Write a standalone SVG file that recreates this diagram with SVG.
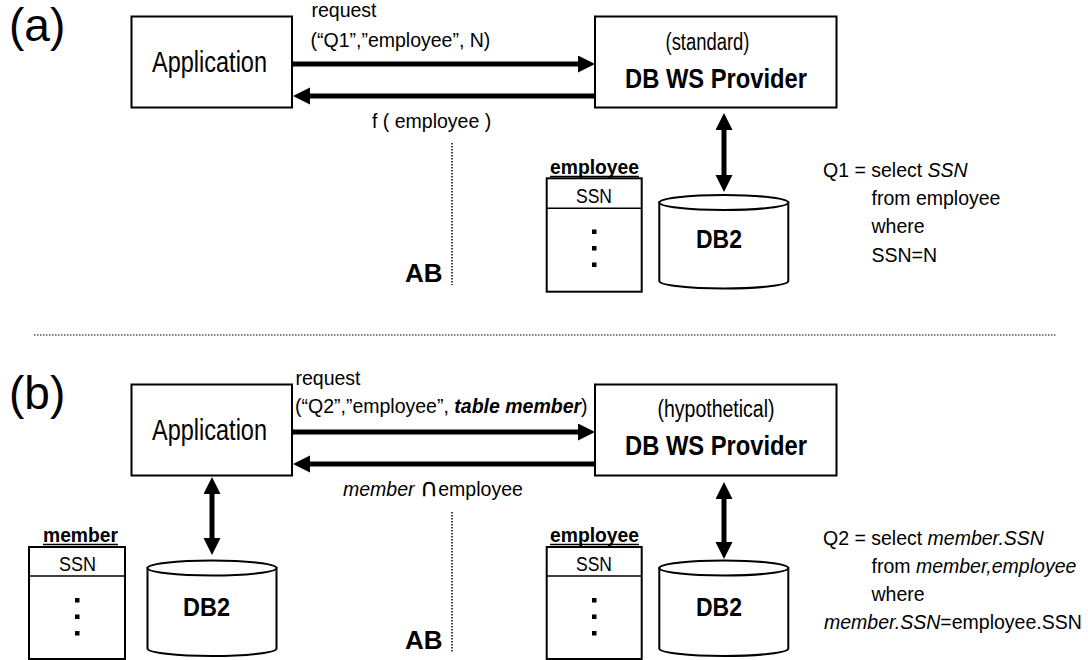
<svg xmlns="http://www.w3.org/2000/svg" width="1088" height="660" viewBox="0 0 1088 660">
  <style>
    .t { font-family: "Liberation Sans", Arial, Helvetica, sans-serif; fill: #000; }
    .lbl { font-size: 19.5px; }
    .it { font-style: italic; }
    .b { font-weight: bold; }
    .box { fill: #fff; stroke: #000; stroke-width: 2; }
    .cyl { fill: #fff; stroke: #000; stroke-width: 2; }
    .rule { stroke: #000; stroke-width: 1.5; }
    .arrow { stroke: #000; stroke-width: 5; fill: none; }
    .vdots { stroke: #000; stroke-width: 1.5; stroke-dasharray: 1.5 1.5; fill: none; }
    .hdots { stroke: #000; stroke-width: 1; stroke-dasharray: 1.5 1.5; fill: none; }
    .ul { stroke: #000; stroke-width: 1.5; }
    .sym { font-family: "DejaVu Sans", sans-serif; font-size: 25px; }
  </style>
  <defs>
    <marker id="head" markerUnits="userSpaceOnUse" markerWidth="18" markerHeight="18" refX="2" refY="8.5" orient="auto-start-reverse">
      <path d="M0,0 L17,8.5 L0,17 z" fill="#000"/>
    </marker>
  </defs>

  <rect width="1088" height="660" fill="#fff"/>

  <!-- panel captions -->
  <text class="t" x="9" y="40.5" font-size="46">(a)</text>
  <text class="t" x="9" y="409" font-size="46">(b)</text>

  <!-- separator between the two panels -->
  <line class="hdots" x1="34" y1="335" x2="1057" y2="335"/>

  <!-- ============ panel (a) ============ -->
  <g id="a-application">
    <rect class="box" x="131.5" y="16.5" width="160.5" height="91"/>
    <text class="t" x="152" y="72" font-size="30" textLength="115" lengthAdjust="spacingAndGlyphs">Application</text>
  </g>

  <g id="a-provider">
    <rect class="box" x="595" y="16.5" width="241.5" height="91"/>
    <text class="t" x="665.5" y="50" font-size="23" textLength="84" lengthAdjust="spacingAndGlyphs">(standard)</text>
    <text class="t b" x="625" y="88" font-size="28" textLength="182" lengthAdjust="spacingAndGlyphs">DB WS Provider</text>
  </g>

  <g id="a-employee-table">
    <text class="t b" x="550" y="173.5" font-size="20" textLength="89" lengthAdjust="spacingAndGlyphs">employee</text>
    <line class="ul" x1="550" y1="176.5" x2="639" y2="176.5"/>
    <rect class="box" x="546.7" y="178.3" width="95" height="113.4"/>
    <line class="rule" x1="546.7" y1="208.3" x2="641.7" y2="208.3"/>
    <text class="t" x="576" y="202.7" font-size="20" textLength="36" lengthAdjust="spacingAndGlyphs">SSN</text>
    <rect x="592" y="229.5" width="4.5" height="4.5"/>
    <rect x="592" y="246" width="4.5" height="4.5"/>
    <rect x="592" y="262.5" width="4.5" height="4.5"/>
  </g>

  <g id="a-db2">
    <path class="cyl" d="M659.3,202.5 L659.3,281 A64.5,7.5 0 0 0 788.3,281 L788.3,202.5 z"/>
    <ellipse class="cyl" cx="723.8" cy="202.5" rx="64.5" ry="7.5"/>
    <text class="t b" x="696" y="248" font-size="26" textLength="46" lengthAdjust="spacingAndGlyphs">DB2</text>
  </g>

  <g id="a-boundary">
    <line class="vdots" x1="452" y1="143" x2="452" y2="285"/>
    <text class="t b" x="405" y="281.5" font-size="26">AB</text>
  </g>

  <g id="a-query">
    <text class="t lbl" x="823" y="177">Q1 = select <tspan class="it">SSN</tspan></text>
    <text class="t lbl" x="871.5" y="205">from employee</text>
    <text class="t lbl" x="871.5" y="233">where</text>
    <text class="t lbl" x="871.5" y="262">SSN=N</text>
  </g>

  <g id="a-connectors">
    <line class="arrow" x1="292" y1="64" x2="580" y2="64" marker-end="url(#head)"/>
    <line class="arrow" x1="595" y1="96" x2="308" y2="96" marker-end="url(#head)"/>
    <line class="arrow" x1="724" y1="128" x2="724" y2="177" marker-start="url(#head)" marker-end="url(#head)"/>
    <text class="t lbl" x="311.5" y="17">request</text>
    <text class="t lbl" x="310.5" y="46.5">(“Q1”,”employee”, N)</text>
    <text class="t lbl" x="372" y="128.3">f ( employee )</text>
  </g>

  <!-- ============ panel (b) ============ -->
  <g id="b-application">
    <rect class="box" x="131.5" y="384.5" width="160.5" height="91"/>
    <text class="t" x="152" y="440" font-size="30" textLength="115" lengthAdjust="spacingAndGlyphs">Application</text>
  </g>

  <g id="b-provider">
    <rect class="box" x="595" y="384.5" width="241.5" height="91"/>
    <text class="t" x="657.5" y="417" font-size="23" textLength="117" lengthAdjust="spacingAndGlyphs">(hypothetical)</text>
    <text class="t b" x="625" y="455" font-size="28" textLength="182" lengthAdjust="spacingAndGlyphs">DB WS Provider</text>
  </g>

  <g id="b-member-table">
    <text class="t b" x="43" y="541.5" font-size="20" textLength="75" lengthAdjust="spacingAndGlyphs">member</text>
    <line class="ul" x1="43" y1="544.5" x2="118" y2="544.5"/>
    <rect class="box" x="29" y="547" width="96" height="112"/>
    <line class="rule" x1="29" y1="576" x2="125" y2="576"/>
    <text class="t" x="59" y="570.5" font-size="20" textLength="37" lengthAdjust="spacingAndGlyphs">SSN</text>
    <rect x="75" y="598" width="4.5" height="4.5"/>
    <rect x="75" y="614.5" width="4.5" height="4.5"/>
    <rect x="75" y="631" width="4.5" height="4.5"/>
  </g>

  <g id="b-member-db2">
    <path class="cyl" d="M147.5,568 L147.5,648.5 A64.5,7.5 0 0 0 276.5,648.5 L276.5,568 z"/>
    <ellipse class="cyl" cx="212" cy="568" rx="64.5" ry="7.5"/>
    <text class="t b" x="183" y="615.5" font-size="26" textLength="47" lengthAdjust="spacingAndGlyphs">DB2</text>
  </g>

  <g id="b-employee-table">
    <text class="t b" x="550" y="541.5" font-size="20" textLength="89" lengthAdjust="spacingAndGlyphs">employee</text>
    <line class="ul" x1="550" y1="544.5" x2="639" y2="544.5"/>
    <rect class="box" x="546.7" y="547" width="95" height="112"/>
    <line class="rule" x1="546.7" y1="576" x2="641.7" y2="576"/>
    <text class="t" x="576" y="570.5" font-size="20" textLength="36" lengthAdjust="spacingAndGlyphs">SSN</text>
    <rect x="592" y="598" width="4.5" height="4.5"/>
    <rect x="592" y="614.5" width="4.5" height="4.5"/>
    <rect x="592" y="631" width="4.5" height="4.5"/>
  </g>

  <g id="b-employee-db2">
    <path class="cyl" d="M659.3,568 L659.3,648.5 A64.5,7.5 0 0 0 788.3,648.5 L788.3,568 z"/>
    <ellipse class="cyl" cx="723.8" cy="568" rx="64.5" ry="7.5"/>
    <text class="t b" x="696" y="615.5" font-size="26" textLength="46" lengthAdjust="spacingAndGlyphs">DB2</text>
  </g>

  <g id="b-boundary">
    <line class="vdots" x1="452" y1="512" x2="452" y2="653"/>
    <text class="t b" x="405" y="648.5" font-size="26">AB</text>
  </g>

  <g id="b-query">
    <text class="t lbl" x="823" y="545">Q2 = select <tspan class="it">member.SSN</tspan></text>
    <text class="t lbl" x="871.5" y="573">from <tspan class="it">member,employee</tspan></text>
    <text class="t lbl" x="871.5" y="601">where</text>
    <text class="t lbl" x="824" y="628.5"><tspan class="it">member.SSN</tspan>=employee.SSN</text>
  </g>

  <g id="b-connectors">
    <line class="arrow" x1="292" y1="432" x2="580" y2="432" marker-end="url(#head)"/>
    <line class="arrow" x1="595" y1="464" x2="308" y2="464" marker-end="url(#head)"/>
    <line class="arrow" x1="212" y1="492" x2="212" y2="540" marker-start="url(#head)" marker-end="url(#head)"/>
    <line class="arrow" x1="724" y1="497" x2="724" y2="544" marker-start="url(#head)" marker-end="url(#head)"/>
    <text class="t lbl" x="295.5" y="385">request</text>
    <text class="t lbl" x="295" y="413">(“Q2”,”employee”, <tspan class="b it">table member</tspan>)</text>
    <text class="t lbl" x="343" y="496.3"><tspan class="it">member</tspan> <tspan class="sym">∩</tspan>employee</text>
  </g>
</svg>
